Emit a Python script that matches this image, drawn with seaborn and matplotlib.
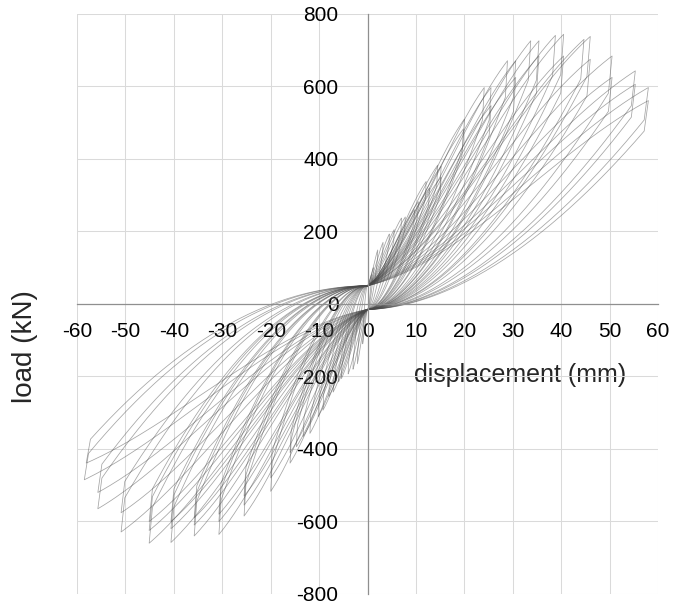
import numpy as np
import pandas as pd
import matplotlib
matplotlib.use("Agg")
import matplotlib.pyplot as plt
import seaborn as sns

# ---- peak values of every loading cycle ----
pos_peak_disp = [0.8, 1.2, 2.1, 3.2, 4.5, 5.5, 7.0, 7.8, 9.7, 10.5, 12.1, 12.8, 14.5, 15.2, 15.2,
                 20.0, 19.8, 24.1, 25.5, 25.5, 28.9, 30.6, 30.6, 33.7, 35.4, 35.4, 38.8, 40.5, 40.5,
                 44.7, 46.0, 46.0, 50.5, 50.5, 55.3, 55.3, 58.0, 58.0]
pos_peak_load = [81, 100, 149, 170, 193, 205, 237, 240, 260, 282, 338, 320, 383, 380, 350,
                 510, 483, 597, 597, 547, 671, 671, 625, 726, 726, 684, 741, 744, 684,
                 730, 738, 675, 684, 625, 643, 606, 597, 561]
neg_peak_disp = [-1.0, -2.1, -3.0, -4.0, -5.4, -6.0, -7.1, -8.0, -9.2, -10.2, -11.9, -13.3, -14.7, -16.0, -16.0,
                 -20.0, -20.0, -25.5, -25.5, -25.5, -30.7, -30.7, -30.7, -35.8, -35.8, -35.8, -40.6, -40.6, -40.6,
                 -45.1, -45.1, -45.1, -50.9, -50.9, -55.7, -55.7, -58.5, -58.1]
neg_peak_load = [-110, -165, -180, -193, -206, -215, -243, -255, -293, -311, -357, -366, -394, -439, -410,
                 -517, -480, -585, -555, -530, -636, -600, -580, -640, -610, -590, -658, -620, -600,
                 -660, -625, -600, -629, -576, -565, -520, -485, -439]

x_ticks = [-60, -50, -40, -30, -20, -10, 0, 10, 20, 30, 40, 50, 60]
y_ticks = [-800, -600, -400, -200, 0, 200, 400, 600, 800]

# pinching loads at zero displacement
LOAD_POS_START = 50.0
LOAD_NEG_START = -15.0


def loading_shape(t):
    return 0.35 * t + 1.5 * t ** 2 - 0.85 * t ** 3


def half_cycle(d, f, f_start, f_end, q):
    t = np.linspace(0.0, 1.0, 90)
    x1 = d * t
    y1 = f_start + (f - f_start) * loading_shape(t)
    d_drop = d * 0.985
    f_drop = 0.85 * f
    u = np.linspace(1.0, 0.0, 90)
    x2 = d_drop * u
    y2 = f_end + (f_drop - f_end) * u ** q
    return np.concatenate([x1, x2]), np.concatenate([y1, y2])


frames = []
for i in range(len(pos_peak_disp)):
    xp, yp = half_cycle(pos_peak_disp[i], pos_peak_load[i], LOAD_POS_START, LOAD_NEG_START, 1.8)
    xn, yn = half_cycle(neg_peak_disp[i], neg_peak_load[i], LOAD_NEG_START, LOAD_POS_START, 2.0)
    x = np.concatenate([xp, xn])
    y = np.concatenate([yp, yn])
    frames.append(pd.DataFrame({"displacement": x, "load": y, "cycle": i}))
df = pd.concat(frames, ignore_index=True)

sns.set_style("white")
plt.rcParams["font.family"] = ["Liberation Sans", "DejaVu Sans"]

fig = plt.figure(figsize=(6.89, 6.07), dpi=100)
ax = fig.add_axes([0.1118, 0.0215, 0.8433, 0.9555])

sns.lineplot(data=df, x="displacement", y="load", units="cycle", estimator=None,
             sort=False, color="#4a4a4a", linewidth=0.55, alpha=0.5, ax=ax, legend=False)

ax.set_xlim(-60, 60)
ax.set_ylim(-800, 800)
ax.set_xticks(x_ticks)
ax.set_yticks(y_ticks)
ax.set_xticklabels([str(v) for v in x_ticks])
ax.set_yticklabels([str(v) for v in y_ticks])

ax.grid(True, color="#dadada", linewidth=0.75)
ax.set_axisbelow(True)

for s in ["top", "right"]:
    ax.spines[s].set_visible(False)
ax.spines["left"].set_position(("data", 0))
ax.spines["bottom"].set_position(("data", 0))
for s in ["left", "bottom"]:
    ax.spines[s].set_color("#8f8f8f")
    ax.spines[s].set_linewidth(0.9)

ax.tick_params(axis="y", direction="out", length=14, width=0.9, pad=7, color="#8f8f8f",
               labelsize=15, labelcolor="black")
ax.tick_params(axis="x", direction="out", length=4, width=0.9, pad=9, color="#8f8f8f",
               labelsize=15, labelcolor="black")

ax.set_xlabel("displacement (mm)", fontsize=18)
ax.xaxis.set_label_coords(0.762, 0.378)
ax.xaxis.label.set_va("center")
ax.set_ylabel("load (kN)", fontsize=20)
ax.yaxis.set_label_coords(-0.0895, 0.426)
ax.yaxis.label.set_va("center")

fig.savefig("out.png", dpi=100)
